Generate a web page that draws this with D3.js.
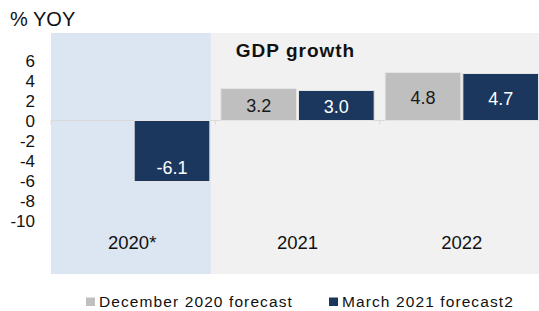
<!DOCTYPE html>
<html lang="en">
<head>
    <meta charset="UTF-8">
    <script src="https://cdn.jsdelivr.net/npm/d3@7"></script>
    <title>GDP growth</title>
    <style>
        body { margin: 0; background: #fff; }
        text { font-family: "Liberation Sans", Arial, sans-serif; }
    </style>
</head>
<body>
    <svg></svg>
    <script>
        const years = ['2020*', '2021', '2022'];
        const seriesNames = ['December 2020 forecast', 'March 2021 forecast2'];
        const december = [null, 3.2, 4.8];
        const march = [-6.1, 3.0, 4.7];
        const yTicks = [6, 4, 2, 0, -2, -4, -6, -8, -10];

        const colors = ['#bfbfbf', '#1b375e'];
        const labelColors = ['#1a1a1a', '#ffffff'];

        const width = 539, height = 311;
        const svg = d3.select('svg').attr('width', width).attr('height', height);

        // plot box
        const pL = 51, pR = 544, pT = 33, pB = 274;

        const y = d3.scaleLinear().domain([-15.35, 8.75]).range([pB, pT]);
        const x = d3.scaleBand().domain(years).range([pL, pR]);
        const xSub = d3.scaleBand().domain([0, 1])
            .range([5.5, x.bandwidth() - 5.5]).paddingInner(0.026);

        // backgrounds
        svg.append('rect').attr('x', pL).attr('y', pT)
            .attr('width', width - pL).attr('height', pB - pT)
            .attr('fill', '#f1f1f1');
        svg.append('rect').attr('x', pL).attr('y', pT)
            .attr('width', x('2021') - 4.5 - pL).attr('height', pB - pT)
            .attr('fill', '#dce6f2');

        // zero line + small ticks
        svg.append('line').attr('x1', pL).attr('x2', width)
            .attr('y1', y(0)).attr('y2', y(0))
            .attr('stroke', '#d9d9d9').attr('stroke-width', 1);
        svg.selectAll('.xtick').data(years).enter().append('line')
            .attr('x1', d => x(d)).attr('x2', d => x(d))
            .attr('y1', y(0)).attr('y2', y(0) + 4)
            .attr('stroke', '#d9d9d9');

        // y tick labels
        svg.selectAll('.ylab').data(yTicks).enter().append('text')
            .attr('x', 35).attr('y', d => y(d) + 6)
            .attr('text-anchor', 'end').attr('font-size', 17).attr('fill', '#111')
            .text(d => d);

        svg.append('text').attr('x', 10).attr('y', 26)
            .attr('font-size', 20).attr('fill', '#111').text('% YOY');

        svg.append('text').attr('x', 295.5).attr('y', 56.5)
            .attr('text-anchor', 'middle').attr('font-size', 19)
            .attr('letter-spacing', 1).attr('font-weight', 'bold')
            .attr('fill', '#111').text('GDP growth');

        // bars
        const bars = [];
        [december, march].forEach((arr, s) => {
            arr.forEach((v, i) => {
                if (v !== null) bars.push({ year: years[i], s: s, v: v });
            });
        });

        svg.append('g').selectAll('rect').data(bars).enter().append('rect')
            .attr('x', d => x(d.year) + xSub(d.s))
            .attr('width', xSub.bandwidth())
            .attr('y', d => y(Math.max(0, d.v)))
            .attr('height', d => Math.abs(y(d.v) - y(0)))
            .attr('fill', d => colors[d.s])
            .attr('stroke', '#e4e4e4').attr('stroke-width', 1);

        svg.append('g').selectAll('text').data(bars).enter().append('text')
            .attr('x', d => x(d.year) + xSub(d.s) + xSub.bandwidth() / 2)
            .attr('y', d => d.v < 0 ? y(d.v) - 7.5 : y(d.v / 2) + 7.5)
            .attr('text-anchor', 'middle').attr('font-size', 18)
            .attr('fill', d => labelColors[d.s])
            .text(d => d.v.toFixed(1));

        // category labels
        svg.selectAll('.xlab').data(years).enter().append('text')
            .attr('x', d => x(d) + x.bandwidth() / 2 - (d === '2020*' ? 1 : 0))
            .attr('y', 249)
            .attr('text-anchor', 'middle').attr('font-size', 18.5).attr('fill', '#111')
            .text(d => d);

        // legend
        const legX = [86, 329];
        const leg = svg.append('g').selectAll('g').data(seriesNames).enter().append('g')
            .attr('transform', (d, i) => `translate(${legX[i]},301.5)`);
        leg.append('rect').attr('x', 0).attr('y', -4).attr('width', 9).attr('height', 8.5)
            .attr('fill', (d, i) => colors[i]);
        leg.append('text').attr('x', 13).attr('y', 5.2)
            .attr('font-size', 15.5).attr('fill', '#111')
            .attr('letter-spacing', 1.1)
            .text(d => d);
    </script>
</body>
</html>
